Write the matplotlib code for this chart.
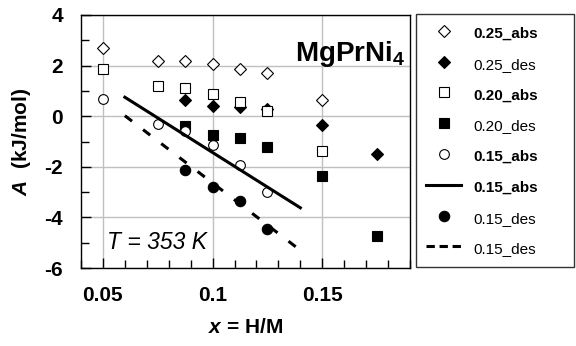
import matplotlib
matplotlib.use("Agg")
import matplotlib.pyplot as plt
from matplotlib.ticker import MultipleLocator
from matplotlib.legend_handler import HandlerLine2D

plt.rcParams['font.family'] = ['Liberation Sans', 'DejaVu Sans']
plt.rcParams['mathtext.fontset'] = 'custom'
plt.rcParams['mathtext.rm'] = 'Liberation Sans:bold'
plt.rcParams['mathtext.it'] = 'Liberation Sans:italic:bold'
plt.rcParams['mathtext.bf'] = 'Liberation Sans:bold'
plt.rcParams['lines.scale_dashes'] = False
plt.rcParams['axes.unicode_minus'] = False

# data
x_25abs = [0.05, 0.075, 0.0875, 0.1, 0.1125, 0.125, 0.15]
y_25abs = [2.68, 2.18, 2.2, 2.05, 1.86, 1.71, 0.63]
x_25des = [0.0875, 0.1, 0.1125, 0.125, 0.15, 0.175]
y_25des = [0.66, 0.40, 0.38, 0.3, -0.36, -1.49]
x_20abs = [0.05, 0.075, 0.0875, 0.1, 0.1125, 0.125, 0.15]
y_20abs = [1.88, 1.2, 1.13, 0.86, 0.57, 0.22, -1.38]
x_20des = [0.0875, 0.1, 0.1125, 0.125, 0.15, 0.175]
y_20des = [-0.4, -0.75, -0.86, -1.21, -2.35, -4.72]
x_15abs = [0.05, 0.075, 0.0875, 0.1, 0.1125, 0.125]
y_15abs = [0.68, -0.29, -0.59, -1.15, -1.92, -2.99]
x_15des = [0.0875, 0.1, 0.1125, 0.125]
y_15des = [-2.13, -2.79, -3.36, -4.44]
fit_x = [0.06, 0.14]
fit_abs = [0.75, -3.62]
fit_des = [0.02, -5.3]

fig = plt.figure(figsize=(5.76, 3.46), dpi=100)
ax = fig.add_axes([81/576, 1-268/346, (410-81)/576, (268-15)/346])

ms = 7
ew = 0.8
h = []
h += ax.plot(x_25abs, y_25abs, 'D', ms=ms-0.5, mfc='white', mec='k', mew=ew, ls='none', label='0.25_abs')
h += ax.plot(x_25des, y_25des, 'D', ms=ms-0.5, mfc='k', mec='k', mew=ew, ls='none', label='0.25_des')
h += ax.plot(x_20abs, y_20abs, 's', ms=ms, mfc='white', mec='k', mew=ew, ls='none', label='0.20_abs')
h += ax.plot(x_20des, y_20des, 's', ms=ms+0.5, mfc='k', mec='k', mew=ew, ls='none', label='0.20_des')
h += ax.plot(x_15abs, y_15abs, 'o', ms=ms, mfc='white', mec='k', mew=ew, ls='none', label='0.15_abs')
h += ax.plot(fit_x, fit_abs, '-', color='k', lw=2.2, label='0.15_abs')
h += ax.plot(x_15des, y_15des, 'o', ms=ms+0.5, mfc='k', mec='k', mew=ew, ls='none', label='0.15_des')
h += ax.plot(fit_x, fit_des, color='k', lw=2.2, dashes=(6.5, 10), label='0.15_des')

ax.set_xlim(0.04, 0.19)
ax.set_ylim(-6, 4)
ax.xaxis.set_major_locator(MultipleLocator(0.05))
ax.xaxis.set_minor_locator(MultipleLocator(0.01))
ax.yaxis.set_major_locator(MultipleLocator(2))
ax.yaxis.set_minor_locator(MultipleLocator(1))
ax.set_xticks([0.05, 0.1, 0.15])
ax.set_xticklabels(['0.05', '0.1', '0.15'])
ax.tick_params(which='both', direction='in', labelsize=15, pad=13, width=1)
ax.tick_params(which='major', length=7)
ax.tick_params(which='minor', length=6)
for lab in ax.get_xticklabels() + ax.get_yticklabels():
    lab.set_fontweight('bold')
ax.grid(True, which='major', color='#c0c0c0', lw=1)
ax.set_axisbelow(True)
for sp in ax.spines.values():
    sp.set_linewidth(1)

ax.set_xlabel(r'$\mathit{x}$ = H/M', fontsize=15, fontweight='bold', labelpad=9)
ax.set_ylabel(r'$\mathit{A}$  (kJ/mol)', fontsize=15, fontweight='bold', labelpad=8)

ax.text(0.985, 0.82, r'MgPrNi$_4$', transform=ax.transAxes, ha='right', va='baseline',
        fontsize=20, fontweight='bold')
ax.text(0.08, 0.075, 'T = 353 K', transform=ax.transAxes, ha='left', va='baseline',
        fontsize=16.5, fontstyle='italic')


def short_dash(leg_line, orig):
    leg_line.update_from(orig)
    leg_line.set_dashes((6, 3.4))


leg = fig.legend(handles=h, loc='upper left',
                 bbox_to_anchor=(416/576, 1-268/346, 158/576, 254/346), mode='expand',
                 borderaxespad=0, fontsize=11, frameon=True, fancybox=False,
                 edgecolor='k', labelspacing=0.86, handlelength=2.3, handleheight=1.4,
                 handletextpad=0.8, borderpad=0.65, numpoints=1,
                 handler_map={h[7]: HandlerLine2D(update_func=short_dash)})
leg.get_frame().set_linewidth(1)
for i, t in enumerate(leg.get_texts()):
    if 'abs' in t.get_text():
        t.set_fontweight('bold')

fig.savefig('out.png', dpi=100)
